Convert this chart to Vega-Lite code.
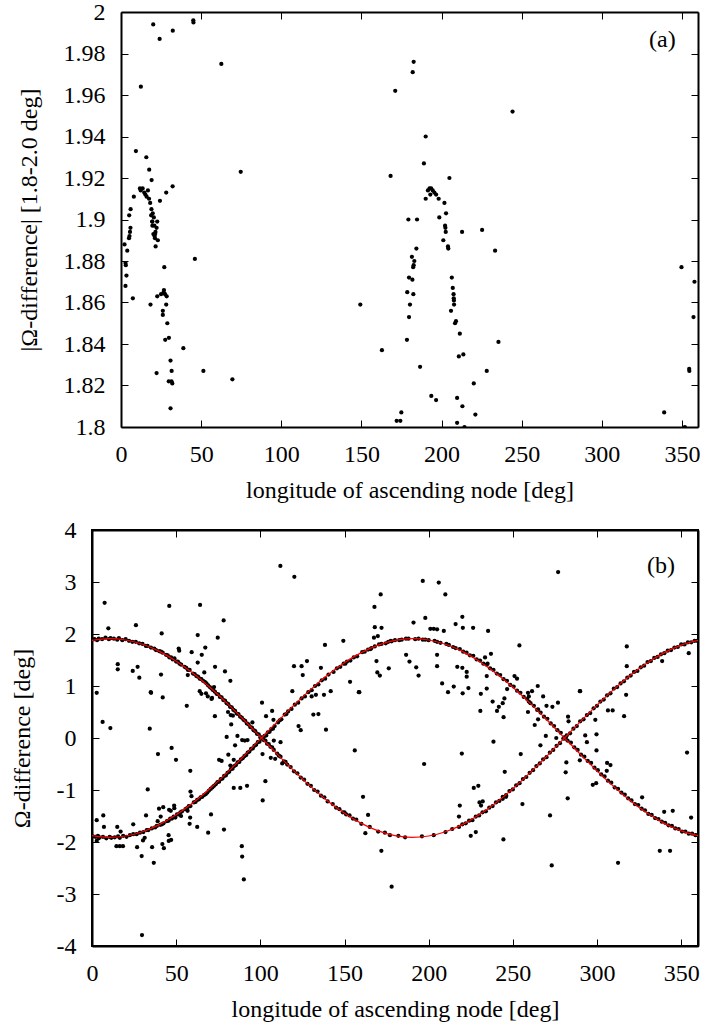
{
"$schema": "https://vega.github.io/schema/vega-lite/v6.json",
"padding": {"left": 9, "top": 0, "right": 4, "bottom": 4},
"config": {
  "font": "Liberation Serif",
  "view": {"stroke": "black", "strokeWidth": 2},
  "axis": {"labelFont": "Liberation Serif", "titleFont": "Liberation Serif", "labelFontSize": 24, "titleFontSize": 24, "labelColor": "black", "titleColor": "black", "titleFontWeight": "normal", "domainColor": "black", "domainWidth": 2, "tickColor": "black", "tickWidth": 1, "tickSize": -7, "grid": false, "labelFlush": false, "labelOverlap": false, "labelBound": false},
  "axisX": {"labelPadding": 22},
  "axisY": {"labelPadding": 23}
},
"datasets": {
"a": [
{"x":20.1,"y":1.994},{"x":24.1,"y":1.987},{"x":32.3,"y":1.991},{"x":45.1,"y":1.996},{"x":45.2,"y":1.995},{"x":62.6,"y":1.975},{"x":12.4,"y":1.964},{"x":74.7,"y":1.923},{"x":9.3,"y":1.933},{"x":15.8,"y":1.930},{"x":17.6,"y":1.924},{"x":19.1,"y":1.919},{"x":32.2,"y":1.916},{"x":28.2,"y":1.913},{"x":24.3,"y":1.909},{"x":8,"y":1.911},{"x":11.8,"y":1.915},{"x":12.3,"y":1.914},{"x":13.5,"y":1.915},{"x":14.5,"y":1.913},{"x":15.2,"y":1.912},{"x":16,"y":1.911},{"x":16.8,"y":1.914},{"x":17.5,"y":1.910},{"x":18.2,"y":1.908},{"x":19,"y":1.905},{"x":19.8,"y":1.903},{"x":20.5,"y":1.901},{"x":18.8,"y":1.902},{"x":19.5,"y":1.899},{"x":20.8,"y":1.897},{"x":21.5,"y":1.894},{"x":20.2,"y":1.893},{"x":21.2,"y":1.891},{"x":6,"y":1.905},{"x":5.1,"y":1.902},
{"x":5.9,"y":1.896},{"x":5.6,"y":1.894},{"x":5.3,"y":1.892},{"x":5,"y":1.891},{"x":2.2,"y":1.888},{"x":3.9,"y":1.885},{"x":2.8,"y":1.879},{"x":3,"y":1.878},{"x":3.4,"y":1.873},{"x":2.8,"y":1.868},{"x":7.4,"y":1.862},{"x":19.5,"y":1.899},{"x":19.6,"y":1.897},{"x":22.6,"y":1.899},{"x":22.2,"y":1.896},{"x":20.9,"y":1.892},{"x":21.3,"y":1.893},{"x":23,"y":1.890},{"x":21.6,"y":1.887},{"x":46.1,"y":1.881},{"x":27,"y":1.877},{"x":26.8,"y":1.866},{"x":26.6,"y":1.865},{"x":22.6,"y":1.863},{"x":25,"y":1.864},{"x":27.5,"y":1.864},{"x":28.5,"y":1.863},{"x":28.2,"y":1.859},{"x":18.4,"y":1.859},{"x":26.1,"y":1.856},{"x":26.1,"y":1.854},{"x":28.9,"y":1.850},{"x":27.6,"y":1.842},{"x":29.9,"y":1.843},{"x":38.9,"y":1.838},{"x":30.9,"y":1.832},{"x":31.6,"y":1.827},{"x":22.2,"y":1.826},{"x":51.4,"y":1.827},{"x":29.8,"y":1.822},{"x":31.5,"y":1.822},{"x":32,"y":1.821},{"x":69.5,"y":1.823},{"x":30.9,"y":1.809},{"x":149.3,"y":1.859},
{"x":182.6,"y":1.976},{"x":182,"y":1.971},{"x":171.1,"y":1.962},{"x":244.3,"y":1.952},{"x":190.1,"y":1.940},{"x":189,"y":1.927},{"x":168.2,"y":1.921},{"x":204.9,"y":1.920},{"x":191.5,"y":1.914},{"x":192.5,"y":1.915},{"x":193.5,"y":1.915},{"x":194.5,"y":1.914},{"x":195.5,"y":1.913},{"x":193,"y":1.912},{"x":196.6,"y":1.912},{"x":190.1,"y":1.910},{"x":198.2,"y":1.910},{"x":201.8,"y":1.908},{"x":202.8,"y":1.903},{"x":179.3,"y":1.900},{"x":184.7,"y":1.900},{"x":198.6,"y":1.901},{"x":202.2,"y":1.897},{"x":202.4,"y":1.896},{"x":202.6,"y":1.894},{"x":212.8,"y":1.894},{"x":225.3,"y":1.895},{"x":201.1,"y":1.890},
{"x":204,"y":1.887},{"x":204.2,"y":1.886},{"x":184.3,"y":1.886},{"x":233.4,"y":1.885},{"x":181.5,"y":1.882},{"x":183,"y":1.880},{"x":182.6,"y":1.878},{"x":182.3,"y":1.877},{"x":179.7,"y":1.872},{"x":181.8,"y":1.871},{"x":206.4,"y":1.872},{"x":207,"y":1.867},{"x":178.6,"y":1.865},{"x":182.4,"y":1.864},{"x":207.5,"y":1.864},{"x":207.6,"y":1.862},{"x":207.7,"y":1.861},{"x":207.8,"y":1.859},{"x":180.3,"y":1.859},{"x":205.9,"y":1.856},{"x":179.7,"y":1.853},{"x":208.4,"y":1.850},{"x":209,"y":1.851},{"x":211.4,"y":1.845},{"x":235.5,"y":1.841},{"x":178.4,"y":1.842},{"x":162.8,"y":1.837},{"x":210.8,"y":1.834},{"x":213.6,"y":1.835},{"x":186.6,"y":1.829},{"x":228.2,"y":1.827},{"x":220.1,"y":1.821},{"x":193.6,"y":1.815},{"x":196.6,"y":1.813},{"x":209.7,"y":1.814},{"x":213,"y":1.810},{"x":174.9,"y":1.807},{"x":172,"y":1.803},{"x":174.3,"y":1.803},{"x":221.1,"y":1.806},{"x":209.7,"y":1.802},{"x":214.3,"y":1.800},{"x":349.7,"y":1.877},{"x":357.8,"y":1.870},{"x":357.2,"y":1.853},{"x":354.5,"y":1.828},{"x":354.6,"y":1.827},{"x":338.9,"y":1.807},{"x":351.8,"y":1.800}
],
"b": [
{"x":111.9,"y":3.31},{"x":120.2,"y":3.10},{"x":7.5,"y":2.60},{"x":45.9,"y":2.54},{"x":64.2,"y":2.56},{"x":78.2,"y":2.26},{"x":9.7,"y":2.11},{"x":26.1,"y":2.17},{"x":41.4,"y":2.01},{"x":62.8,"y":1.98},{"x":74.7,"y":1.93},{"x":149.3,"y":1.87},{"x":138.4,"y":1.79},
{"x":15.3,"y":1.42},{"x":15.3,"y":1.32},{"x":24.2,"y":1.29},{"x":27.1,"y":1.37},{"x":28.1,"y":1.16},{"x":41,"y":1.22},{"x":56.9,"y":1.21},{"x":51.5,"y":1.72},{"x":51.8,"y":1.68},{"x":67.3,"y":1.74},{"x":65.2,"y":1.60},{"x":73.1,"y":1.37},{"x":79,"y":1.28},{"x":82.2,"y":1.10},{"x":59.2,"y":1.65},{"x":62.8,"y":1.45},{"x":66.7,"y":1.26},{"x":2.8,"y":0.87},{"x":35.1,"y":0.87},{"x":120,"y":1.38},{"x":124.5,"y":1.38},{"x":127.7,"y":1.48},{"x":125.2,"y":1.21},{"x":136,"y":1.35},
{"x":276.9,"y":3.19},{"x":196.5,"y":3.02},{"x":206,"y":2.99},{"x":209.9,"y":2.76},{"x":171.5,"y":2.76},{"x":167.8,"y":2.52},{"x":168,"y":2.13},{"x":172,"y":2.12},{"x":191,"y":2.22},{"x":198,"y":2.31},{"x":216,"y":2.19},{"x":220,"y":2.33},{"x":220.3,"y":2.12},{"x":226.4,"y":2.12},{"x":235.3,"y":2.06},{"x":253.9,"y":1.78},{"x":317.7,"y":1.76},{"x":167.5,"y":1.93},{"x":169.8,"y":1.96},{"x":201,"y":2.10},{"x":203,"y":2.10},{"x":205,"y":2.09},{"x":209,"y":2.06},
{"x":186.6,"y":1.60},{"x":188.6,"y":1.47},{"x":192.6,"y":1.36},{"x":194,"y":1.20},{"x":205,"y":1.38},{"x":205,"y":1.60},{"x":176.3,"y":1.34},{"x":169,"y":1.48},{"x":169.5,"y":1.26},{"x":171,"y":1.20},{"x":208,"y":1.05},{"x":214.9,"y":0.99},{"x":217,"y":1.37},{"x":220,"y":1.35},{"x":222.6,"y":1.27},{"x":222.6,"y":1.18},{"x":223.6,"y":0.96},{"x":234.5,"y":0.95},{"x":234.5,"y":1.19},{"x":235,"y":1.43},{"x":233.5,"y":1.55},{"x":237,"y":1.62},{"x":153.3,"y":1.08},{"x":158.5,"y":0.88},{"x":289.8,"y":0.90},{"x":264.8,"y":1.00},{"x":261.4,"y":0.90},{"x":259,"y":0.87},{"x":246.6,"y":0.94},{"x":251,"y":1.19},{"x":252.5,"y":1.14},{"x":317.7,"y":1.38},{"x":354.5,"y":1.63},{"x":338.7,"y":1.48},
{"x":6.3,"y":0.31},{"x":10.9,"y":0.19},{"x":34.9,"y":0.88},{"x":42,"y":0.78},{"x":34.3,"y":0.18},{"x":56.3,"y":0.62},{"x":39.2,"y":-0.31},{"x":47.3,"y":-0.19},{"x":49.9,"y":-0.42},{"x":58.4,"y":-0.63},{"x":33.1,"y":-0.99},{"x":58.5,"y":-1.03},{"x":59.1,"y":-1.12},
{"x":2.8,"y":-1.58},{"x":6.7,"y":-1.49},{"x":7.1,"y":-1.71},{"x":4,"y":-1.93},{"x":2.8,"y":-1.98},{"x":15,"y":-1.71},{"x":17,"y":-1.80},{"x":18.4,"y":-2.08},{"x":14.5,"y":-2.08},{"x":16.5,"y":-2.08},{"x":24.5,"y":-1.66},{"x":32.1,"y":-1.49},{"x":26.8,"y":-2.10},{"x":29.5,"y":-2.27},{"x":35.7,"y":-2.10},{"x":36.7,"y":-2.40},{"x":42.7,"y":-2.12},{"x":41.8,"y":-2.04},{"x":30.3,"y":-1.97},{"x":31.3,"y":-1.92},{"x":45.5,"y":-1.87},{"x":45.6,"y":-1.98},{"x":47,"y":-1.96},{"x":39.8,"y":-1.36},{"x":42.3,"y":-1.33},{"x":40.8,"y":-1.51},{"x":39,"y":-1.60},{"x":45.8,"y":-1.38},{"x":46.8,"y":-1.40},{"x":48.8,"y":-1.30},{"x":48.9,"y":-1.35},{"x":52.9,"y":-1.50},{"x":56.8,"y":-1.40},{"x":58.3,"y":-1.53},{"x":58,"y":-1.65},{"x":62.5,"y":-1.71},{"x":69,"y":-1.82},{"x":70.7,"y":-1.47},{"x":78.4,"y":-1.76},{"x":89,"y":-2.08},{"x":89.2,"y":-2.28},{"x":90.2,"y":-2.72},{"x":92.1,"y":-0.92},{"x":88.1,"y":-0.96},{"x":84.2,"y":-0.96},{"x":101.4,"y":-1.20},{"x":103,"y":-0.83},{"x":156.1,"y":-0.24},{"x":158.8,"y":0.88},{"x":29.7,"y":-3.79},
{"x":68.8,"y":0.80},{"x":71,"y":0.75},{"x":72.5,"y":0.98},{"x":73,"y":0.42},{"x":71.3,"y":0.77},{"x":64,"y":0.90},{"x":65,"y":0.85},{"x":67.7,"y":0.86},{"x":80.8,"y":0.50},{"x":82.4,"y":0.44},{"x":82.7,"y":0.26},{"x":83.7,"y":0.43},{"x":80,"y":0.02},{"x":77,"y":-0.44},{"x":75.5,"y":-0.42},{"x":81,"y":-0.32},{"x":84.2,"y":-0.42},{"x":82.2,"y":-0.53},{"x":85,"y":-0.14},{"x":86.4,"y":0.04},{"x":89.2,"y":-0.04},{"x":90.8,"y":-0.05},{"x":92.4,"y":-0.04},{"x":95.3,"y":0.30},{"x":101,"y":0.68},{"x":107,"y":0.52},{"x":107.8,"y":0.35},{"x":103.4,"y":0.42},{"x":108,"y":-0.05},{"x":112,"y":-0.08},{"x":113,"y":-0.49},{"x":108.8,"y":-0.40},{"x":106.2,"y":-0.38},{"x":101.3,"y":-0.31},{"x":119,"y":0.90},{"x":122.7,"y":0.23},{"x":124,"y":0.15},{"x":130.5,"y":0.80},{"x":133,"y":0.83},{"x":131.5,"y":0.45},{"x":134.5,"y":0.46},{"x":139,"y":0.16},{"x":137.8,"y":0.83},{"x":141.8,"y":0.90},
{"x":197.3,"y":-0.50},{"x":219.7,"y":-0.30},{"x":238.5,"y":-0.07},{"x":230.7,"y":0.52},{"x":211.5,"y":0.88},{"x":220.2,"y":0.86},{"x":231,"y":0.85},{"x":240.6,"y":0.52},{"x":238,"y":0.70},{"x":241.7,"y":0.60},{"x":244,"y":0.67},{"x":245,"y":0.76},{"x":244.5,"y":0.40},{"x":259.5,"y":0.80},{"x":259.5,"y":0.70},{"x":259,"y":0.50},{"x":265,"y":0.36},{"x":263,"y":0.25},{"x":265,"y":0.55},{"x":268,"y":0.80},{"x":270,"y":0.62},{"x":269.6,"y":0.04},{"x":266.4,"y":-0.14},
{"x":273.5,"y":0.60},{"x":276.8,"y":0.68},{"x":275.8,"y":0.00},{"x":282.8,"y":0.41},{"x":283.1,"y":0.32},{"x":281.8,"y":-0.47},{"x":281.4,"y":-0.66},{"x":282.6,"y":-1.16},{"x":290,"y":0.90},{"x":289.8,"y":-0.43},{"x":293,"y":0.05},{"x":294,"y":-0.08},{"x":299.7,"y":0.07},{"x":299,"y":0.35},{"x":299.7,"y":-0.24},{"x":317.3,"y":0.83},{"x":316.1,"y":0.42},{"x":306.5,"y":0.53},{"x":309.3,"y":0.53},{"x":297.5,"y":-0.90},{"x":299.5,"y":-0.87},{"x":306,"y":-0.48},{"x":308,"y":-0.52},{"x":305.8,"y":-0.63},{"x":312.5,"y":-2.40},{"x":326.8,"y":-1.14},{"x":339.9,"y":-1.42},{"x":345,"y":-1.40},{"x":337.3,"y":-2.17},{"x":343.4,"y":-2.17},{"x":353.5,"y":-0.28},{"x":355.9,"y":-1.53},{"x":178,"y":-2.86},{"x":273.1,"y":-2.45},{"x":171.9,"y":-2.17},{"x":162.4,"y":-1.83},{"x":161,"y":-1.13},{"x":164,"y":-1.48},{"x":230.2,"y":-1.24},{"x":232.1,"y":-1.22},{"x":231.1,"y":-1.30},{"x":218,"y":-1.51},{"x":218.5,"y":-1.30},{"x":226.8,"y":-0.96},{"x":229.5,"y":-0.92},{"x":225,"y":-1.88},{"x":228,"y":-1.81},{"x":244.4,"y":-1.95},{"x":245.2,"y":-0.65},{"x":255.7,"y":-1.27},{"x":272.1,"y":-1.49},{"x":244,"y":-1.17},{"x":246,"y":-1.13},{"x":254.7,"y":-0.31},
{"x":0,"y":1.89},{"x":1.5,"y":1.90},{"x":3,"y":1.88},{"x":4,"y":1.91},{"x":6,"y":1.90},{"x":8,"y":1.93},{"x":10,"y":1.90},{"x":11,"y":1.92},{"x":13,"y":1.91},{"x":15,"y":1.89},{"x":16,"y":1.92},{"x":18,"y":1.88},{"x":20,"y":1.90},{"x":22,"y":1.87},{"x":24,"y":1.85},{"x":26,"y":1.85},{"x":28,"y":1.82},{"x":30,"y":1.81},{"x":32,"y":1.77},{"x":33,"y":1.77},{"x":35,"y":1.74},{"x":37,"y":1.72},{"x":38,"y":1.69},{"x":40,"y":1.67},{"x":41,"y":1.66},{"x":42,"y":1.64},{"x":44,"y":1.60},{"x":45,"y":1.59},{"x":46,"y":1.55},{"x":47,"y":1.55},{"x":48,"y":1.51},{"x":49,"y":1.53},{"x":50,"y":1.47},{"x":51,"y":1.47},{"x":52,"y":1.43},{"x":53,"y":1.41},{"x":55,"y":1.37},{"x":56,"y":1.35},{"x":57,"y":1.31},{"x":58,"y":1.31},{"x":60,"y":1.24},{"x":61,"y":1.23},{"x":62,"y":1.19},{"x":63,"y":1.18},{"x":64,"y":1.14},{"x":65,"y":1.13},{"x":66,"y":1.10},{"x":67,"y":1.08},{"x":68,"y":1.05},{"x":69,"y":1.01},{"x":70,"y":0.98},{"x":71,"y":0.95},{"x":72,"y":0.92},{"x":73,"y":0.89},{"x":74,"y":0.85},{"x":75,"y":0.84},{"x":76,"y":0.79},{"x":77,"y":0.78},{"x":78,"y":0.73},{"x":79,"y":0.72},{"x":80,"y":0.67},{"x":81,"y":0.65},{"x":82,"y":0.60},{"x":83,"y":0.59},{"x":84,"y":0.54},{"x":85,"y":0.52},{"x":86,"y":0.47},{"x":87,"y":0.46},{"x":88,"y":0.41},{"x":89,"y":0.39},{"x":90,"y":0.35},{"x":91,"y":0.33},{"x":92,"y":0.28},{"x":93,"y":0.26},{"x":94,"y":0.21},{"x":95,"y":0.20},{"x":96,"y":0.15},{"x":97,"y":0.13},{"x":98,"y":0.08},{"x":99,"y":0.07},{"x":100,"y":0.01},{"x":101,"y":0.01},{"x":102,"y":-0.04},{"x":103,"y":-0.05},{"x":104,"y":-0.11},{"x":105,"y":-0.12},{"x":106,"y":-0.17},{"x":107,"y":-0.18},{"x":108,"y":-0.23},{"x":110,"y":-0.30},{"x":111,"y":-0.34},{"x":112,"y":-0.36},{"x":114,"y":-0.45},{"x":115,"y":-0.46},{"x":116,"y":-0.51},{"x":118,"y":-0.56},{"x":120,"y":-0.64},{"x":122,"y":-0.68},{"x":124,"y":-0.76},{"x":126,"y":-0.80},{"x":128,"y":-0.88},{"x":130,"y":-0.92},{"x":132,"y":-1.00},{"x":134,"y":-1.03},{"x":136,"y":-1.11},{"x":138,"y":-1.14},{"x":140,"y":-1.22},{"x":143,"y":-1.27},{"x":145,"y":-1.34},{"x":147,"y":-1.37},{"x":149,"y":-1.43},{"x":150,"y":-1.43},{"x":151,"y":-1.47},{"x":153,"y":-1.49},{"x":155,"y":-1.55},{"x":157,"y":-1.57},{"x":160,"y":-1.65},{"x":165,"y":-1.71},{"x":170,"y":-1.80},{"x":174,"y":-1.82},{"x":177,"y":-1.87},{"x":182,"y":-1.88},{"x":186,"y":-1.91},{"x":196,"y":-1.89},{"x":203,"y":-1.87},{"x":210,"y":-1.81},{"x":214,"y":-1.75},{"x":218,"y":-1.71},{"x":220,"y":-1.66},{"x":222,"y":-1.64},{"x":224,"y":-1.59},{"x":226,"y":-1.58},{"x":228,"y":-1.51},{"x":230,"y":-1.49},{"x":232,"y":-1.43},{"x":234,"y":-1.41},{"x":236,"y":-1.34},{"x":238,"y":-1.31},{"x":240,"y":-1.24},{"x":242,"y":-1.21},{"x":244,"y":-1.13},{"x":246,"y":-1.10},{"x":248,"y":-1.02},{"x":250,"y":-0.99},{"x":252,"y":-0.91},{"x":254,"y":-0.87},{"x":256,"y":-0.79},{"x":258,"y":-0.75},{"x":260,"y":-0.67},{"x":262,"y":-0.62},{"x":264,"y":-0.54},{"x":266,"y":-0.49},{"x":268,"y":-0.41},{"x":270,"y":-0.37},{"x":272,"y":-0.28},{"x":274,"y":-0.23},{"x":276,"y":-0.15},{"x":278,"y":-0.10},{"x":280,"y":-0.01},{"x":281,"y":-0.01},{"x":282,"y":0.05},{"x":284,"y":0.09},{"x":286,"y":0.18},{"x":288,"y":0.23},{"x":290,"y":0.32},{"x":292,"y":0.36},{"x":294,"y":0.44},{"x":296,"y":0.48},{"x":298,"y":0.57},{"x":300,"y":0.62},{"x":302,"y":0.70},{"x":304,"y":0.74},{"x":306,"y":0.82},{"x":308,"y":0.86},{"x":310,"y":0.95},{"x":312,"y":0.98},{"x":314,"y":1.05},{"x":316,"y":1.09},{"x":318,"y":1.16},{"x":320,"y":1.20},{"x":322,"y":1.27},{"x":324,"y":1.29},{"x":326,"y":1.36},{"x":328,"y":1.39},{"x":330,"y":1.46},{"x":332,"y":1.48},{"x":334,"y":1.54},{"x":336,"y":1.56},{"x":338,"y":1.61},{"x":340,"y":1.63},{"x":342,"y":1.68},{"x":344,"y":1.69},{"x":346,"y":1.74},{"x":348,"y":1.75},{"x":350,"y":1.80},{"x":352,"y":1.80},{"x":354,"y":1.84},{"x":356,"y":1.84},{"x":358,"y":1.87},{"x":359.5,"y":1.87},
{"x":0.5,"y":-1.89},{"x":2,"y":-1.90},{"x":3.5,"y":-1.88},{"x":4.5,"y":-1.91},{"x":6.5,"y":-1.90},{"x":8.5,"y":-1.93},{"x":10.5,"y":-1.90},{"x":11.5,"y":-1.92},{"x":13.5,"y":-1.91},{"x":15.5,"y":-1.89},{"x":16.5,"y":-1.92},{"x":18.5,"y":-1.88},{"x":20.5,"y":-1.90},{"x":22.5,"y":-1.87},{"x":24.5,"y":-1.85},{"x":26.5,"y":-1.85},{"x":28.5,"y":-1.82},{"x":30.5,"y":-1.81},{"x":32.5,"y":-1.77},{"x":33.5,"y":-1.77},{"x":35.5,"y":-1.74},{"x":37.5,"y":-1.72},{"x":38.5,"y":-1.69},{"x":40.5,"y":-1.67},{"x":41.5,"y":-1.66},{"x":42.5,"y":-1.64},{"x":44.5,"y":-1.60},{"x":45.5,"y":-1.59},{"x":46.5,"y":-1.55},{"x":47.5,"y":-1.55},{"x":48.5,"y":-1.51},{"x":49.5,"y":-1.53},{"x":50.5,"y":-1.47},{"x":51.5,"y":-1.47},{"x":52.5,"y":-1.43},{"x":53.5,"y":-1.41},{"x":55.5,"y":-1.37},{"x":56.5,"y":-1.35},{"x":57.5,"y":-1.31},{"x":58.5,"y":-1.31},{"x":60.5,"y":-1.24},{"x":61.5,"y":-1.23},{"x":62.5,"y":-1.19},{"x":63.5,"y":-1.18},{"x":64.5,"y":-1.14},{"x":65.5,"y":-1.13},{"x":66.5,"y":-1.10},{"x":67.5,"y":-1.08},{"x":68.5,"y":-1.05},{"x":69.5,"y":-1.01},{"x":70.5,"y":-0.98},{"x":71.5,"y":-0.95},{"x":72.5,"y":-0.92},{"x":73.5,"y":-0.89},{"x":74.5,"y":-0.85},{"x":75.5,"y":-0.84},{"x":76.5,"y":-0.79},{"x":77.5,"y":-0.78},{"x":78.5,"y":-0.73},{"x":79.5,"y":-0.72},{"x":80.5,"y":-0.67},{"x":81.5,"y":-0.65},{"x":82.5,"y":-0.60},{"x":83.5,"y":-0.59},{"x":84.5,"y":-0.54},{"x":85.5,"y":-0.52},{"x":86.5,"y":-0.47},{"x":87.5,"y":-0.46},{"x":88.5,"y":-0.41},{"x":89.5,"y":-0.39},{"x":90.5,"y":-0.35},{"x":91.5,"y":-0.33},{"x":92.5,"y":-0.28},{"x":93.5,"y":-0.26},{"x":94.5,"y":-0.21},{"x":95.5,"y":-0.20},{"x":96.5,"y":-0.15},{"x":97.5,"y":-0.13},{"x":98.5,"y":-0.08},{"x":99.5,"y":-0.07},{"x":100.5,"y":-0.01},{"x":101.5,"y":-0.01},{"x":102.5,"y":0.04},{"x":103.5,"y":0.05},{"x":104.5,"y":0.11},{"x":105.5,"y":0.12},{"x":106.5,"y":0.17},{"x":107.5,"y":0.18},{"x":108.5,"y":0.23},{"x":110.5,"y":0.30},{"x":111.5,"y":0.34},{"x":112.5,"y":0.36},{"x":114.5,"y":0.45},{"x":115.5,"y":0.46},{"x":116.5,"y":0.51},{"x":118.5,"y":0.56},{"x":120.5,"y":0.64},{"x":122.5,"y":0.68},{"x":124.5,"y":0.76},{"x":126.5,"y":0.80},{"x":128.5,"y":0.88},{"x":130.5,"y":0.92},{"x":132.5,"y":1.00},{"x":134.5,"y":1.03},{"x":136.5,"y":1.11},{"x":138.5,"y":1.14},{"x":140.5,"y":1.22},{"x":143.5,"y":1.27},{"x":145.5,"y":1.34},{"x":147.5,"y":1.37},{"x":149.5,"y":1.43},{"x":150.5,"y":1.43},{"x":151.5,"y":1.47},{"x":153.5,"y":1.49},{"x":155.5,"y":1.55},{"x":157.5,"y":1.57},{"x":160.5,"y":1.65},{"x":162,"y":1.66},{"x":164,"y":1.70},{"x":165.5,"y":1.71},{"x":166,"y":1.73},{"x":168,"y":1.76},{"x":170.5,"y":1.80},{"x":172,"y":1.81},{"x":174.5,"y":1.82},{"x":176,"y":1.85},{"x":177.5,"y":1.87},{"x":178,"y":1.86},{"x":180,"y":1.88},{"x":182.5,"y":1.88},{"x":184,"y":1.89},{"x":186.5,"y":1.91},{"x":188,"y":1.91},{"x":192,"y":1.90},{"x":194,"y":1.91},{"x":196.5,"y":1.89},{"x":198,"y":1.89},{"x":200,"y":1.88},{"x":203.5,"y":1.87},{"x":205,"y":1.85},{"x":207,"y":1.83},{"x":210.5,"y":1.81},{"x":212,"y":1.79},{"x":214.5,"y":1.75},{"x":216,"y":1.73},{"x":218.5,"y":1.71},{"x":220.5,"y":1.66},{"x":222.5,"y":1.64},{"x":224.5,"y":1.59},{"x":226.5,"y":1.58},{"x":228.5,"y":1.51},{"x":230.5,"y":1.49},{"x":232.5,"y":1.43},{"x":234.5,"y":1.41},{"x":236.5,"y":1.34},{"x":238.5,"y":1.31},{"x":240.5,"y":1.24},{"x":242.5,"y":1.21},{"x":244.5,"y":1.13},{"x":246.5,"y":1.10},{"x":248.5,"y":1.02},{"x":250.5,"y":0.99},{"x":252.5,"y":0.91},{"x":254.5,"y":0.87},{"x":256.5,"y":0.79},{"x":258.5,"y":0.75},{"x":260.5,"y":0.67},{"x":262.5,"y":0.62},{"x":264.5,"y":0.54},{"x":266.5,"y":0.49},{"x":268.5,"y":0.41},{"x":270.5,"y":0.37},{"x":272.5,"y":0.28},{"x":274.5,"y":0.23},{"x":276.5,"y":0.15},{"x":278.5,"y":0.10},{"x":280.5,"y":0.01},{"x":281.5,"y":0.01},{"x":282.5,"y":-0.05},{"x":284.5,"y":-0.09},{"x":286.5,"y":-0.18},{"x":288.5,"y":-0.23},{"x":290.5,"y":-0.32},{"x":292.5,"y":-0.36},{"x":294.5,"y":-0.44},{"x":296.5,"y":-0.48},{"x":298.5,"y":-0.57},{"x":300.5,"y":-0.62},{"x":302.5,"y":-0.70},{"x":304.5,"y":-0.74},{"x":306.5,"y":-0.82},{"x":308.5,"y":-0.86},{"x":310.5,"y":-0.95},{"x":312.5,"y":-0.98},{"x":314.5,"y":-1.05},{"x":316.5,"y":-1.09},{"x":318.5,"y":-1.16},{"x":320.5,"y":-1.20},{"x":322.5,"y":-1.27},{"x":324.5,"y":-1.29},{"x":326.5,"y":-1.36},{"x":328.5,"y":-1.39},{"x":330.5,"y":-1.46},{"x":332.5,"y":-1.48},{"x":334.5,"y":-1.54},{"x":336.5,"y":-1.56},{"x":338.5,"y":-1.61},{"x":340.5,"y":-1.63},{"x":342.5,"y":-1.68},{"x":344.5,"y":-1.69},{"x":346.5,"y":-1.74},{"x":348.5,"y":-1.75},{"x":350.5,"y":-1.80},{"x":352.5,"y":-1.80},{"x":354.5,"y":-1.84},{"x":356.5,"y":-1.84},{"x":358.5,"y":-1.87},{"x":359.8,"y":-1.87}
],
"c": [
{"k":"A","x":0,"y":1.877},{"k":"A","x":10,"y":1.910},{"k":"A","x":20,"y":1.885},{"k":"A","x":30,"y":1.803},{"k":"A","x":40,"y":1.666},{"k":"A","x":50,"y":1.478},{"k":"A","x":60,"y":1.246},{"k":"A","x":70,"y":0.975},{"k":"A","x":80,"y":0.675},{"k":"A","x":90,"y":0.355},{"k":"A","x":100,"y":0.023},{"k":"A","x":110,"y":-0.309},{"k":"A","x":120,"y":-0.631},{"k":"A","x":130,"y":-0.935},{"k":"A","x":140,"y":-1.210},{"k":"A","x":150,"y":-1.448},{"k":"A","x":160,"y":-1.642},{"k":"A","x":170,"y":-1.787},{"k":"A","x":180,"y":-1.877},{"k":"A","x":190,"y":-1.910},{"k":"A","x":200,"y":-1.885},{"k":"A","x":210,"y":-1.803},{"k":"A","x":220,"y":-1.666},{"k":"A","x":230,"y":-1.478},{"k":"A","x":240,"y":-1.246},{"k":"A","x":250,"y":-0.975},{"k":"A","x":260,"y":-0.675},{"k":"A","x":270,"y":-0.355},{"k":"A","x":280,"y":-0.023},{"k":"A","x":290,"y":0.309},{"k":"A","x":300,"y":0.631},{"k":"A","x":310,"y":0.935},{"k":"A","x":320,"y":1.210},{"k":"A","x":330,"y":1.448},{"k":"A","x":340,"y":1.642},{"k":"A","x":350,"y":1.787},{"k":"A","x":360,"y":1.877},
{"k":"B","x":0,"y":-1.877},{"k":"B","x":10,"y":-1.910},{"k":"B","x":20,"y":-1.885},{"k":"B","x":30,"y":-1.803},{"k":"B","x":40,"y":-1.666},{"k":"B","x":50,"y":-1.478},{"k":"B","x":60,"y":-1.246},{"k":"B","x":70,"y":-0.975},{"k":"B","x":80,"y":-0.675},{"k":"B","x":90,"y":-0.355},{"k":"B","x":100,"y":-0.023},{"k":"B","x":110,"y":0.309},{"k":"B","x":120,"y":0.631},{"k":"B","x":130,"y":0.935},{"k":"B","x":140,"y":1.210},{"k":"B","x":150,"y":1.448},{"k":"B","x":160,"y":1.642},{"k":"B","x":170,"y":1.787},{"k":"B","x":180,"y":1.877},{"k":"B","x":190,"y":1.910},{"k":"B","x":200,"y":1.885},{"k":"B","x":210,"y":1.803},{"k":"B","x":220,"y":1.666},{"k":"B","x":230,"y":1.478},{"k":"B","x":240,"y":1.246},{"k":"B","x":250,"y":0.975},{"k":"B","x":260,"y":0.675},{"k":"B","x":270,"y":0.355},{"k":"B","x":280,"y":0.023},{"k":"B","x":290,"y":-0.309},{"k":"B","x":300,"y":-0.631},{"k":"B","x":310,"y":-0.935},{"k":"B","x":320,"y":-1.210},{"k":"B","x":330,"y":-1.448},{"k":"B","x":340,"y":-1.642},{"k":"B","x":350,"y":-1.787},{"k":"B","x":360,"y":-1.877}
]
},
"spacing": 15,
"vconcat": [
{
  "width": 606, "height": 415,
  "view": {"stroke": null},
  "data": {"name": "a"},
  "resolve": {"axis": {"x": "independent", "y": "independent"}},
  "layer": [
    {"mark": {"type": "circle", "size": 18, "color": "black", "opacity": 1, "clip": true},
     "encoding": {
       "x": {"field": "x", "type": "quantitative", "scale": {"domain": [0, 360], "range": [29, 606], "nice": false, "zero": false},
             "axis": {"values": [0,50,100,150,200,250,300,350], "title": "longitude of ascending node [deg]", "titlePadding": 12}},
       "y": {"field": "y", "type": "quantitative", "scale": {"domain": [1.8, 2.0], "nice": false, "zero": false},
             "axis": {"values": [1.8,1.82,1.84,1.86,1.88,1.9,1.92,1.94,1.96,1.98,2.0], "format": ".3~g", "offset": -29, "title": "|Ω-difference| [1.8-2.0 deg]", "titlePadding": 22}}
     }},
    {"mark": {"type": "circle", "size": 18, "opacity": 0},
     "encoding": {
       "x": {"field": "x", "type": "quantitative", "axis": {"orient": "top", "values": [0,50,100,150,200,250,300,350], "labels": false, "title": null}},
       "y": {"field": "y", "type": "quantitative", "axis": {"orient": "right", "values": [1.8,1.82,1.84,1.86,1.88,1.9,1.92,1.94,1.96,1.98,2.0], "labels": false, "title": null}}
     }},
    {"data": {"values": [{"x": 337.8, "y": 1.9865, "t": "(a)"}]},
     "mark": {"type": "text", "font": "Liberation Serif", "fontSize": 24, "color": "black", "align": "center", "baseline": "middle"},
     "encoding": {
       "x": {"field": "x", "type": "quantitative", "axis": null},
       "y": {"field": "y", "type": "quantitative", "axis": null},
       "text": {"field": "t"}
     }}
  ]
},
{
  "width": 606, "height": 416,
  "resolve": {"axis": {"x": "independent", "y": "independent"}},
  "layer": [
    {"data": {"name": "b"},
     "mark": {"type": "circle", "size": 18, "color": "black", "opacity": 1, "clip": true},
     "encoding": {
       "x": {"field": "x", "type": "quantitative", "scale": {"domain": [0, 360], "nice": false, "zero": false},
             "axis": {"values": [0,50,100,150,200,250,300,350], "title": "longitude of ascending node [deg]", "titlePadding": 12}},
       "y": {"field": "y", "type": "quantitative", "scale": {"domain": [-4, 4], "nice": false, "zero": false},
             "axis": {"values": [-4,-3,-2,-1,0,1,2,3,4], "labelExpr": "replace(datum.label, '\u2212', '-')", "title": "Ω-difference [deg]", "titlePadding": 22}}
     }},
    {"data": {"name": "c"},
     "mark": {"type": "line", "color": "#ff0000", "strokeWidth": 1.2, "interpolate": "monotone", "clip": true},
     "encoding": {
       "x": {"field": "x", "type": "quantitative", "axis": {"orient": "top", "values": [0,50,100,150,200,250,300,350], "labels": false, "title": null}},
       "y": {"field": "y", "type": "quantitative", "axis": {"orient": "right", "values": [-4,-3,-2,-1,0,1,2,3,4], "labels": false, "title": null}},
       "detail": {"field": "k"}
     }},
    {"data": {"values": [{"x": 338, "y": 3.31, "t": "(b)"}]},
     "mark": {"type": "text", "font": "Liberation Serif", "fontSize": 24, "color": "black", "align": "center", "baseline": "middle"},
     "encoding": {
       "x": {"field": "x", "type": "quantitative", "axis": null},
       "y": {"field": "y", "type": "quantitative", "axis": null},
       "text": {"field": "t"}
     }}
  ]
}
]
}
